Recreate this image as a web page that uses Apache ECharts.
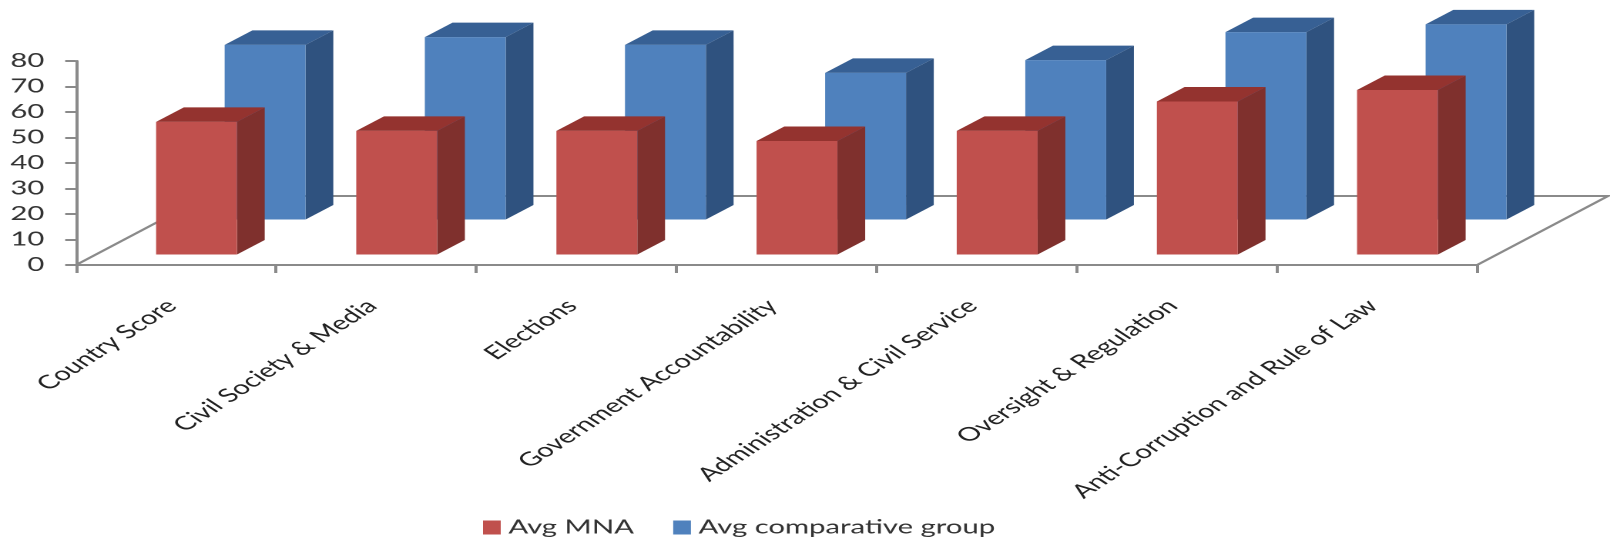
<!DOCTYPE html>
<html>
<head>
<meta charset="utf-8">
<style>
  html, body { margin: 0; padding: 0; background: #fff; overflow: hidden; }
  /* the source picture is a chart stretched sideways, so draw it narrow and stretch it too */
  #chart { width: 1045px; height: 537px; transform: scaleX(1.5407); transform-origin: 0 0; }
</style>
<script src="https://cdn.jsdelivr.net/npm/echarts@6/dist/echarts.min.js"></script>
</head>
<body>
<div id="chart"></div>
<script>
const categories = ['Country Score', 'Civil Society & Media', 'Elections', 'Government Accountability',
  'Administration & Civil Service', 'Oversight & Regulation', 'Anti-Corruption and Rule of Law'];
const avgMna = [52, 48.5, 48.5, 44.5, 48.5, 60, 64.5];
const avgComparative = [68.5, 71.5, 68.5, 57.5, 62.5, 73.5, 76.5];

// the floor of the 3d box, and where each row of bars stands on it
const floorDx = 85;
const floorDy = -69;
const barWidth = 52.5;
const barDx = 18;
const barDy = -14.5;

const chart = echarts.init(document.getElementById('chart'), null, { devicePixelRatio: 2 });

function poly(points, color) {
  return { type: 'polygon', shape: { points: points }, style: { fill: color } };
}

function bar3d(colors, rowDx, rowDy) {
  return function (params, api) {
    const base = api.coord([api.value(0), 0]);
    const top = api.coord([api.value(0), api.value(1)]);
    const l = base[0] + rowDx - barWidth / 2;
    const r = l + barWidth;
    const b = base[1] + rowDy;
    const t = top[1] + rowDy;
    return {
      type: 'group',
      children: [
        poly([[r, b], [r + barDx, b + barDy], [r + barDx, t + barDy], [r, t]], colors[1]),
        poly([[l, t], [r, t], [r + barDx, t + barDy], [l + barDx, t + barDy]], colors[2]),
        poly([[l, b], [r, b], [r, t], [l, t]], colors[0])
      ]
    };
  };
}

function floorLines(params, api) {
  const band = api.size([1, 0])[0];
  const first = api.coord([0, 0]);
  const last = api.coord([categories.length - 1, 0]);
  const o = [first[0] - band / 2, first[1]];
  const e = [last[0] + band / 2, last[1]];
  return {
    type: 'polyline',
    shape: { points: [o, [o[0] + floorDx, o[1] + floorDy], [e[0] + floorDx, e[1] + floorDy], e] },
    style: { stroke: '#8a8a8a', lineWidth: 2, fill: 'none' }
  };
}

const option = {
  animation: false,
  backgroundColor: '#fff',
  textStyle: { fontFamily: 'Lato' },
  grid: { left: 49.3, right: 86.3, top: 61, height: 204, containLabel: false },
  legend: {
    data: ['Avg MNA', 'Avg comparative group'],
    left: 308.5,
    top: 513,
    icon: 'rect',
    itemWidth: 11.5,
    itemHeight: 14,
    itemGap: 25.5,
    textStyle: { fontFamily: 'Lato', fontSize: 19, color: '#333' }
  },
  xAxis: {
    type: 'category',
    data: categories,
    boundaryGap: true,
    axisLine: { lineStyle: { color: '#8a8a8a', width: 2 } },
    axisTick: { show: true, length: 8, lineStyle: { color: '#8a8a8a', width: 2 } },
    axisLabel: {
      interval: 0,
      rotate: 45,
      margin: 35,
      padding: [0, 4, 0, 0],
      fontFamily: 'Lato',
      fontSize: 19,
      color: '#222'
    }
  },
  yAxis: {
    type: 'value',
    min: 0,
    max: 80,
    interval: 10,
    splitLine: { show: false },
    axisLine: { show: true, lineStyle: { color: '#8a8a8a', width: 2 } },
    axisTick: { show: true, length: 7, lineStyle: { color: '#8a8a8a', width: 2 } },
    axisLabel: { margin: 20.5, fontFamily: 'Lato', fontSize: 19, color: '#333' }
  },
  series: [
    {
      name: 'floor',
      type: 'custom',
      silent: true,
      data: [[0, 0]],
      renderItem: floorLines
    },
    {
      name: 'Avg comparative group',
      type: 'custom',
      data: avgComparative.map((v, i) => [i, v]),
      encode: { x: 0, y: 1 },
      itemStyle: { color: '#4f81bd' },
      renderItem: bar3d(['#4f81bd', '#2f527f', '#376094'], 57.8, -45.5)
    },
    {
      name: 'Avg MNA',
      type: 'custom',
      data: avgMna.map((v, i) => [i, v]),
      encode: { x: 0, y: 1 },
      itemStyle: { color: '#c0504d' },
      renderItem: bar3d(['#c0504d', '#7f302d', '#94332f'], 13.3, -10.5)
    }
  ]
};

chart.setOption(option);
window.addEventListener('resize', function () {
  chart.resize();
});
</script>
</body>
</html>
